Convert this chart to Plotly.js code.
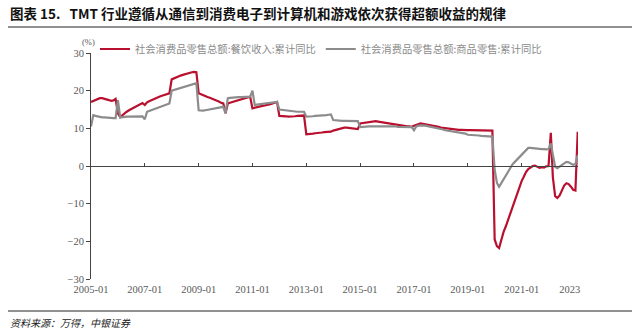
<!DOCTYPE html>
<html>
<head>
<meta charset="utf-8">
<script src="https://cdn.plot.ly/plotly-3.0.1.min.js"></script>
<style>html,body{margin:0;padding:0;background:#fff;}#chart{width:640px;height:333px;}</style>
</head>
<body>
<div id="chart"></div>
<script>
// Monthly data, 2005-01 .. 2023-02
const startYear = 2005;
const seriesNames = ["社会消费品零售总额:餐饮收入:累计同比", "社会消费品零售总额:商品零售:累计同比"];
const catering = [
  17.0,17.3,17.6,17.9,18.0,18.0,17.9,17.7,17.5,17.3,17.4,17.8, // 2005
  14.0,13.0,13.5,14.0,14.4,14.8,15.1,15.5,15.8,16.1,16.4,16.7, // 2006
  16.2,16.9,17.2,17.5,17.8,18.0,18.3,18.5,18.7,18.9,19.1,19.3, // 2007
  23.0,23.3,23.6,23.8,24.0,24.2,24.4,24.6,24.8,24.9,25.0,24.9, // 2008
  19.3,19.0,18.8,18.6,18.3,18.1,17.9,17.6,17.4,17.1,16.8,16.6, // 2009
  14.0,16.6,16.8,17.0,17.2,17.4,17.6,17.8,18.0,18.1,18.3,18.4, // 2010
  15.3,15.5,15.6,15.8,15.9,16.0,16.2,16.3,16.4,16.6,16.8,17.0, // 2011
  13.3,13.3,13.2,13.2,13.1,13.1,13.2,13.2,13.3,13.3,13.4,13.4, // 2012
  8.4,8.4,8.5,8.6,8.7,8.7,8.8,8.9,9.0,9.0,9.1,9.1,             // 2013
  9.4,9.6,9.8,10.0,10.1,10.2,10.2,10.1,10.0,9.9,9.8,9.8,       // 2014
  11.3,11.4,11.5,11.6,11.7,11.8,11.8,11.9,11.8,11.7,11.6,11.6, // 2015
  11.3,11.2,11.1,11.0,10.9,10.9,10.8,10.7,10.6,10.5,10.5,10.4, // 2016
  10.7,10.9,11.1,11.3,11.2,11.1,11.0,10.9,10.8,10.6,10.5,10.4, // 2017
  10.2,10.1,10.0,9.9,9.8,9.8,9.7,9.7,9.6,9.6,9.5,9.5,          // 2018
  9.5,9.5,9.5,9.5,9.4,9.4,9.4,9.4,9.4,9.4,9.4,9.4,             // 2019
  -19.5,-21.3,-21.8,-19.5,-17.5,-16.0,-14.3,-12.5,-10.8,-9.0,-7.2,-5.5, // 2020
  -4.0,-2.8,-1.6,-0.8,-0.3,0.0,0.1,-0.2,-0.5,-0.3,-0.4,-0.1,   // 2021
  0.0,8.8,-3.0,-8.0,-8.5,-7.8,-6.5,-5.2,-4.6,-4.8,-5.5,-6.3,   // 2022
  -6.5,9.1                                                     // 2023
];
const goods = [
  10.5,13.5,13.3,13.1,13.0,12.9,12.9,12.8,12.8,12.7,12.7,12.7, // 2005
  17.5,12.9,13.0,13.0,13.1,13.1,13.1,13.2,13.2,13.2,13.2,13.2, // 2006
  12.4,14.4,14.6,14.8,15.0,15.2,15.4,15.6,15.8,16.0,16.3,16.6, // 2007
  20.0,20.2,20.4,20.6,20.8,21.0,21.2,21.4,21.6,21.8,22.0,22.0, // 2008
  14.8,14.7,14.7,14.8,14.9,15.0,15.1,15.2,15.3,15.4,15.5,15.7, // 2009
  14.0,18.0,18.1,18.2,18.2,18.2,18.3,18.3,18.3,18.3,18.3,18.4, // 2010
  20.0,16.2,16.3,16.4,16.5,16.6,16.7,16.8,16.8,16.9,17.0,17.0, // 2011
  15.0,14.9,14.8,14.7,14.6,14.6,14.5,14.5,14.4,14.4,14.4,14.4, // 2012
  13.1,13.1,13.2,13.2,13.3,13.3,13.4,13.4,13.5,13.5,13.6,13.7, // 2013
  12.2,12.1,12.1,12.1,12.0,12.0,12.0,12.0,11.9,11.9,11.9,11.9, // 2014
  10.3,10.4,10.4,10.5,10.5,10.5,10.5,10.5,10.5,10.5,10.5,10.5, // 2015
  10.6,10.6,10.5,10.5,10.5,10.4,10.4,10.4,10.4,10.3,10.3,10.3, // 2016
  9.5,10.5,10.7,10.8,10.8,10.7,10.6,10.5,10.4,10.3,10.2,10.1,  // 2017
  9.8,9.7,9.5,9.4,9.3,9.2,9.1,9.0,8.9,8.8,8.7,8.6,             // 2018
  8.3,8.3,8.2,8.2,8.1,8.1,8.0,8.0,7.9,7.9,7.8,7.8,             // 2019
  -1.0,-4.5,-5.5,-4.5,-3.3,-2.3,-1.2,-0.2,0.5,1.1,1.7,2.4,     // 2020
  3.0,3.5,4.3,4.8,4.8,4.7,4.7,4.5,4.5,4.5,4.5,4.4,             // 2021
  4.5,6.0,3.0,-0.2,-0.6,-0.2,0.3,0.8,1.1,1.0,0.6,0.3,          // 2022
  0.5,2.9                                                      // 2023
];
const tickVals = ["2005-01-01","2007-01-01","2009-01-01","2011-01-01","2013-01-01","2015-01-01","2017-01-01","2019-01-01","2021-01-01","2022-10-15"];
const tickText = ["2005-01","2007-01","2009-01","2011-01","2013-01","2015-01","2017-01","2019-01","2021-01","2023"];

const dates = catering.map((_, i) => {
  const y = startYear + Math.floor(i / 12);
  const m = (i % 12) + 1;
  return y + "-" + String(m).padStart(2, "0") + "-01";
});

const traces = [
  {x: dates, y: catering, name: seriesNames[0], type: "scatter", mode: "lines",
   line: {color: "#B8102E", width: 2.2}, hoverinfo: "skip"},
  {x: dates, y: goods, name: seriesNames[1], type: "scatter", mode: "lines",
   line: {color: "#8C8C8C", width: 2.2}, hoverinfo: "skip"},
  {x: [dates[0]], y: [null], xaxis: "x2", yaxis: "y", showlegend: false, hoverinfo: "skip", mode: "lines"}
];

const W = 487, H = 226, L = 91, T = 53;
const px = v => (v - L) / W;
const py = v => (T + H - v) / H;

const tickFont = {family: "Liberation Serif, DejaVu Serif, serif", size: 10.5, color: "#595959"};
const range = ["2005-01-01", "2023-02-05"];

const layout = {
  width: 640, height: 333,
  margin: {l: L, r: 640 - L - W, t: T, b: 333 - T - H, pad: 0},
  paper_bgcolor: "#fff", plot_bgcolor: "#fff",
  showlegend: true,
  legend: {orientation: "h", x: px(95), y: py(49), xanchor: "left", yanchor: "middle",
           font: {family: "Noto Sans CJK SC", size: 10.3, color: "#8a8a8a"},
           bgcolor: "rgba(0,0,0,0)", itemwidth: 30, tracegroupgap: 0, traceorder: "normal"},
  xaxis: {type: "date", range: range, tickvals: tickVals, ticktext: tickText,
          showline: false, showgrid: false, zeroline: false, ticks: "",
          tickfont: tickFont, ticklabelstandoff: 2},
  xaxis2: {type: "date", range: range, overlaying: "x", anchor: "free", position: 0.5,
           tickvals: tickVals.slice(0, 9), showticklabels: false,
           showline: true, linecolor: "#444", linewidth: 1, ticks: "inside", ticklen: 3,
           tickcolor: "#444", showgrid: false, zeroline: false},
  yaxis: {range: [-30, 30], dtick: 10, tick0: 0, showline: true, linecolor: "#444", linewidth: 1,
          ticks: "outside", ticklen: 4, tickcolor: "#444", showgrid: false, zeroline: false,
          tickfont: tickFont},
  annotations: [
    {text: "<b>图表 15.   TMT 行业遵循从通信到消费电子到计算机和游戏依次获得超额收益的规律</b>",
     xref: "paper", yref: "paper", x: px(8), y: py(13), xanchor: "left", yanchor: "middle",
     showarrow: false, font: {family: "Noto Sans CJK SC", size: 13.5, color: "#111"}},
    {text: "(%)", xref: "paper", yref: "paper", x: px(88), y: py(42), xanchor: "center", yanchor: "middle",
     showarrow: false, font: {family: "Liberation Serif, serif", size: 8.5, color: "#595959"}},
    {text: "<i>资料来源：万得，中银证券</i>", xref: "paper", yref: "paper", x: px(8), y: py(322),
     xanchor: "left", yanchor: "middle", showarrow: false,
     font: {family: "Noto Sans CJK SC", size: 10, color: "#222"}}
  ],
  shapes: [
    {type: "line", xref: "paper", yref: "paper", x0: px(8), x1: px(632), y0: py(27), y1: py(27),
     line: {color: "#222", width: 1.2}},
    {type: "line", xref: "paper", yref: "paper", x0: px(8), x1: px(632), y0: py(311), y1: py(311),
     line: {color: "#222", width: 1.2}}
  ]
};

Plotly.newPlot("chart", traces, layout, {displayModeBar: false, staticPlot: true});
</script>
</body>
</html>
